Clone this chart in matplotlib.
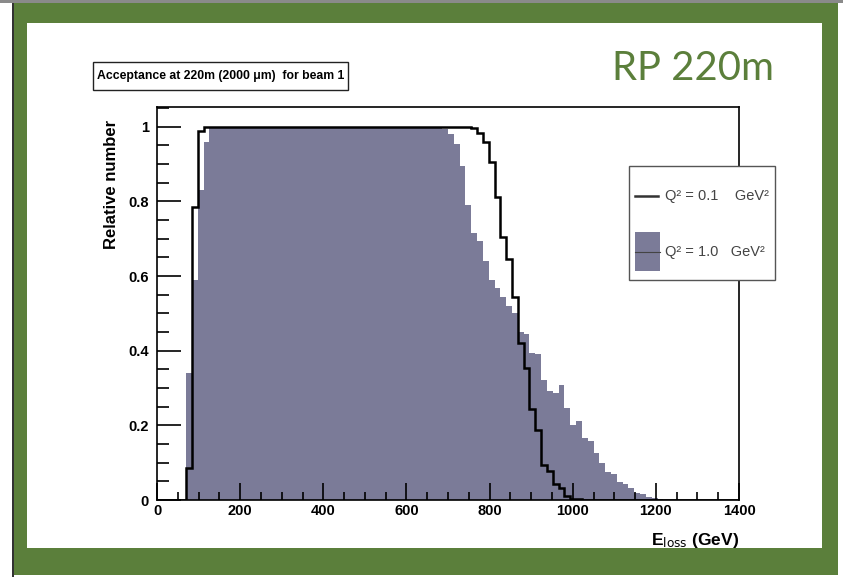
import numpy as np
import matplotlib
matplotlib.use("Agg")
from matplotlib import pyplot as plt
from matplotlib.patches import Rectangle
from matplotlib.ticker import MultipleLocator

plt.rcParams['font.family'] = ['Liberation Sans', 'DejaVu Sans']
plt.rcParams['mathtext.default'] = 'regular'

# histogram binning: 100 bins of 14 GeV between 0 and 1400 GeV
bin_edges = np.linspace(0, 1400, 101)

# Q^2 = 0.1 GeV^2 (black line)
acc_q01 = [
    0, 0, 0, 0, 0, 0.085, 0.786, 0.99, 1, 1,
    1, 1, 1, 1, 1, 1, 1, 1, 1, 1,
    1, 1, 1, 1, 1, 1, 1, 1, 1, 1,
    1, 1, 1, 1, 1, 1, 1, 1, 1, 1,
    1, 1, 1, 1, 1, 1, 1, 1, 1, 1,
    1, 1, 1, 1, 0.996, 0.983, 0.959, 0.906, 0.811, 0.704,
    0.646, 0.545, 0.42, 0.355, 0.245, 0.188, 0.094, 0.079, 0.044, 0.032,
    0.011, 0.004, 0.002, 0, 0, 0, 0, 0, 0, 0,
    0, 0, 0, 0, 0, 0, 0, 0, 0, 0,
    0, 0, 0, 0, 0, 0, 0, 0, 0, 0,
]

# Q^2 = 1.0 GeV^2 (filled)
acc_q10 = [
    0, 0, 0, 0, 0, 0.34, 0.59, 0.83, 0.96, 1,
    1, 1, 1, 1, 1, 1, 1, 1, 1, 1,
    1, 1, 1, 1, 1, 1, 1, 1, 1, 1,
    1, 1, 1, 1, 1, 1, 1, 1, 1, 1,
    1, 1, 1, 1, 1, 1, 1, 1, 1, 0.995,
    0.98, 0.955, 0.895, 0.79, 0.715, 0.695, 0.64, 0.59, 0.567, 0.545,
    0.52, 0.50, 0.45, 0.445, 0.395, 0.39, 0.322, 0.292, 0.288, 0.308,
    0.247, 0.202, 0.211, 0.165, 0.158, 0.125, 0.098, 0.075, 0.07, 0.047,
    0.043, 0.032, 0.02, 0.016, 0.009, 0.005, 0.002, 0, 0, 0,
    0, 0, 0, 0, 0, 0, 0, 0, 0, 0,
]

x_ticks = [0, 200, 400, 600, 800, 1000, 1200, 1400]
y_ticks = [0, 0.2, 0.4, 0.6, 0.8, 1.0]
y_tick_labels = ["0", "0.2", "0.4", "0.6", "0.8", "1"]

fill_color = "#7b7b98"
frame_green = "#5b7f3b"

W, H = 843, 577
fig = plt.figure(figsize=(W / 100, H / 100), dpi=100)


def px_rect(x0, y0, x1, y1, **kw):
    # rectangle given in image pixels (origin top-left)
    return Rectangle((x0 / W, 1 - y1 / H), (x1 - x0) / W, (y1 - y0) / H,
                     transform=fig.transFigure, **kw)


# slide frame, kept behind the axes
fig.patches.append(px_rect(0, 0, W, 3, facecolor="#8a8a8a", edgecolor="none", zorder=-10))
fig.patches.append(px_rect(12, 3, 14, H, facecolor="#333333", edgecolor="none", zorder=-10))
fig.patches.append(px_rect(14, 3, 838, 575, facecolor=frame_green, edgecolor="none", zorder=-10))
fig.patches.append(px_rect(27, 23, 822, 548, facecolor="white", edgecolor="none", zorder=-9))

ax = fig.add_axes([157 / W, 1 - 500 / H, (739 - 157) / W, (500 - 107) / H])
ax.stairs(acc_q10, bin_edges, fill=True, color=fill_color, lw=0)
ax.stairs(acc_q01, bin_edges, color="black", lw=1.8)

ax.set_xlim(0, 1400)
ax.set_ylim(0, 1.053)
ax.set_xticks(x_ticks)
ax.set_yticks(y_ticks)
ax.set_yticklabels(y_tick_labels)
ax.xaxis.set_minor_locator(MultipleLocator(50))
ax.yaxis.set_minor_locator(MultipleLocator(0.05))
ax.tick_params(which="both", direction="in", top=False, right=False, width=1.2)
ax.tick_params(axis="x", which="major", length=12, pad=3)
ax.tick_params(axis="x", which="minor", length=6)
ax.tick_params(axis="y", which="major", length=17, pad=6)
ax.tick_params(axis="y", which="minor", length=8.5)
for lab in ax.get_xticklabels() + ax.get_yticklabels():
    lab.set_fontweight("bold")
    lab.set_fontsize(10.5)
for sp in ax.spines.values():
    sp.set_linewidth(1.2)

ax.text(-0.078, 0.967, "Relative number", rotation=90, ha="center", va="top",
        fontsize=12, fontweight="bold", transform=ax.transAxes)
ax.text(1.0, -0.08, "E$_{\\mathrm{loss}}$ (GeV)", ha="right", va="top",
        fontsize=12.5, fontweight="bold", transform=ax.transAxes)

# legend box
leg_box = Rectangle((0.811, 0.560), 0.251, 0.290, transform=ax.transAxes,
                    facecolor="white", edgecolor="#555555", lw=1.0,
                    clip_on=False, zorder=5)
ax.add_patch(leg_box)
ax.plot([0.821, 0.860], [0.774, 0.774], color="#333333", lw=1.8,
        transform=ax.transAxes, clip_on=False, zorder=6)
ax.add_patch(Rectangle((0.821, 0.583), 0.043, 0.099, transform=ax.transAxes,
                       facecolor=fill_color, edgecolor="none",
                       clip_on=False, zorder=6))
ax.plot([0.821, 0.864], [0.630, 0.630], color="#444444", lw=0.8,
        transform=ax.transAxes, clip_on=False, zorder=7)
for ypos, lab in [(0.774, "Q² = 0.1    GeV²"), (0.630, "Q² = 1.0   GeV²")]:
    t = ax.text(0.873, ypos, lab, ha="left", va="center", fontsize=10.5,
                color="#444444", transform=ax.transAxes, zorder=7)
    t.set_clip_path(leg_box)

# title box
fig.patches.append(px_rect(93, 62, 348, 90, facecolor="white",
                           edgecolor="#222222", lw=1.0, zorder=-5))
fig.text(220.5 / W, 1 - 76.5 / H, "Acceptance at 220m (2000 μm)  for beam 1",
         ha="center", va="center", fontsize=8.8, fontweight="bold")

fig.text(612 / W, 1 - 80 / H, "RP 220m", ha="left", va="baseline",
         fontsize=28.8, color=frame_green, family=["Lato", "DejaVu Sans"])

fig.savefig("out.png", dpi=100)
